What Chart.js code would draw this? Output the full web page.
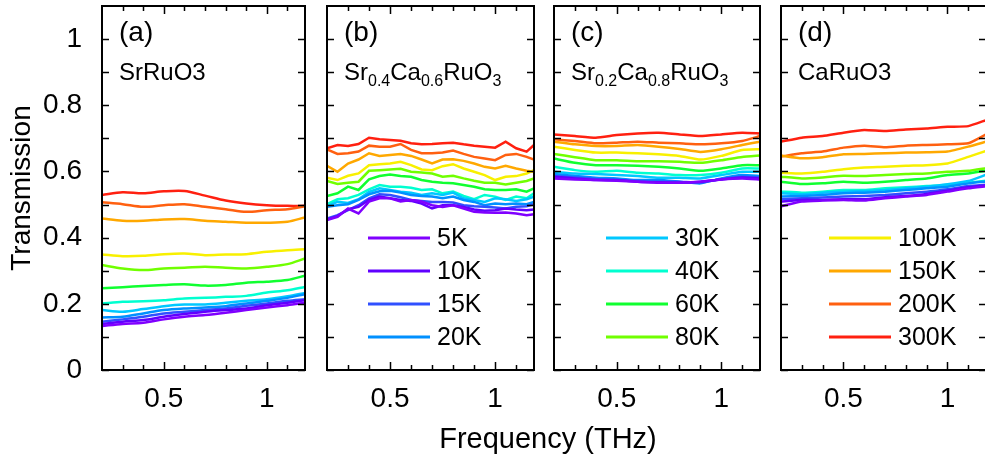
<!DOCTYPE html>
<html>
<head>
<meta charset="utf-8">
<script src="https://cdn.jsdelivr.net/npm/chart.js@4.4.0/dist/chart.umd.min.js"></script>
<style>
  html, body { margin:0; padding:0; background:#fff; overflow:hidden; width:985px; height:462px; }
  canvas { position:absolute; top:0; }
  #xtitle { position:absolute; left:348px; width:400px; top:424px; text-align:center;
            font-family:'Liberation Sans', Arial, sans-serif; font-size:29px; line-height:29px; color:#000; }
</style>
</head>
<body>
<canvas id="ca" width="320" height="462" style="left:0px"></canvas>
<canvas id="cb" width="227" height="462" style="left:317px"></canvas>
<canvas id="cc" width="226" height="462" style="left:544px"></canvas>
<canvas id="cd" width="226" height="462" style="left:771px"></canvas>
<div id="xtitle">Frequency (THz)</div>
<script>
// ---------------- data ----------------
const TEMPS = ['5K','10K','15K','20K','30K','40K','60K','80K','100K','150K','200K','300K'];

const FREQ_COARSE = [0.2,0.3,0.4,0.5,0.6,0.7,0.8,0.9,1.0,1.1,1.185];
const FREQ_FINE = [0.2,0.25,0.3,0.35,0.4,0.45,0.5,0.55,0.6,0.65,0.7,0.75,0.8,0.85,0.9,0.95,1.0,1.05,1.1,1.15,1.185];

const Y_TICKS = [0,0.2,0.4,0.6,0.8,1.0];
const Y_MINOR = [0.1,0.3,0.5,0.7,0.9];
const X_TICKS = [0.5,1.0];
const X_MINOR = [0.3,0.4,0.6,0.7,0.8,0.9,1.1];

// (a) SrRuO3
const VAL_A = [
  [.133,.139,.143,.153,.161,.166,.173,.181,.189,.196,.203],
  [.139,.146,.151,.161,.169,.176,.181,.186,.196,.203,.211],
  [.146,.153,.161,.171,.176,.181,.186,.194,.201,.209,.214],
  [.159,.161,.171,.181,.186,.189,.193,.201,.209,.218,.229],
  [.181,.176,.184,.193,.198,.198,.203,.209,.214,.223,.233],
  [.201,.206,.208,.211,.216,.218,.221,.224,.234,.241,.251],
  [.247,.250,.254,.257,.259,.255,.257,.264,.267,.272,.285],
  [.317,.307,.302,.307,.309,.312,.309,.307,.312,.320,.337],
  [.349,.344,.345,.350,.352,.347,.349,.350,.357,.362,.365],
  [.458,.451,.451,.455,.456,.451,.448,.445,.445,.448,.461],
  [.507,.501,.493,.498,.501,.493,.486,.478,.483,.486,.495],
  [.529,.537,.534,.540,.541,.527,.512,.503,.498,.496,.496]
];

// (b) Sr0.4Ca0.6RuO3
const VAL_B = [
  [.453,.463,.488,.473,.509,.519,.519,.509,.514,.509,.498,.493,.498,.488,.478,.476,.475,.476,.473,.468,.471],
  [.455,.465,.486,.493,.514,.524,.519,.514,.511,.503,.488,.498,.498,.493,.485,.481,.483,.488,.485,.483,.485],
  [.458,.468,.483,.498,.519,.531,.529,.522,.514,.511,.508,.508,.506,.498,.495,.493,.491,.488,.493,.495,.501],
  [.493,.498,.501,.514,.531,.540,.542,.536,.529,.526,.524,.519,.524,.514,.508,.498,.503,.501,.503,.501,.508],
  [.495,.508,.505,.516,.538,.549,.544,.539,.536,.529,.534,.529,.536,.519,.514,.508,.519,.516,.511,.516,.524],
  [.501,.516,.519,.529,.546,.559,.554,.554,.551,.544,.546,.534,.539,.526,.516,.529,.524,.514,.524,.519,.534],
  [.526,.534,.554,.544,.576,.586,.591,.586,.584,.574,.569,.566,.564,.559,.554,.546,.544,.544,.546,.539,.549],
  [.571,.562,.566,.569,.602,.604,.606,.608,.599,.597,.594,.584,.587,.579,.572,.566,.566,.561,.566,.571,.579],
  [.581,.574,.587,.594,.619,.622,.624,.629,.619,.606,.604,.616,.622,.609,.599,.589,.574,.584,.586,.594,.604],
  [.617,.599,.624,.636,.655,.647,.650,.653,.647,.636,.624,.636,.637,.632,.624,.614,.609,.617,.609,.602,.599],
  [.667,.653,.655,.660,.678,.675,.675,.683,.665,.655,.655,.657,.663,.653,.644,.639,.634,.650,.653,.644,.636],
  [.670,.680,.677,.683,.702,.697,.695,.693,.685,.682,.683,.685,.687,.682,.678,.675,.672,.690,.670,.660,.680]
];

// (c) Sr0.2Ca0.8RuO3
const VAL_C = [
  [.579,.576,.574,.572,.569,.566,.566,.569,.576,.579,.576],
  [.584,.579,.574,.574,.569,.567,.566,.569,.576,.582,.579],
  [.586,.582,.577,.574,.571,.569,.569,.566,.577,.584,.582],
  [.592,.586,.581,.579,.574,.574,.569,.564,.579,.589,.586],
  [.599,.594,.592,.589,.586,.581,.581,.579,.589,.599,.599],
  [.614,.604,.599,.602,.596,.594,.589,.589,.596,.609,.609],
  [.639,.626,.619,.619,.617,.614,.609,.602,.609,.619,.619],
  [.653,.643,.634,.634,.631,.631,.629,.626,.634,.644,.648],
  [.675,.665,.657,.657,.655,.652,.647,.636,.647,.665,.667],
  [.690,.682,.677,.677,.680,.675,.668,.659,.667,.680,.690],
  [.697,.692,.685,.687,.690,.687,.685,.682,.685,.692,.707],
  [.712,.707,.702,.710,.715,.717,.712,.707,.712,.717,.715]
];

// (d) CaRuO3
const VAL_D = [
  [.495,.509,.512,.514,.512,.519,.524,.529,.539,.549,.555],
  [.509,.514,.514,.516,.516,.522,.526,.532,.542,.552,.558],
  [.516,.519,.521,.524,.526,.529,.534,.539,.546,.556,.560],
  [.524,.526,.529,.534,.536,.539,.544,.549,.554,.564,.570],
  [.534,.531,.536,.539,.541,.544,.549,.554,.561,.571,.590],
  [.539,.536,.539,.544,.544,.549,.552,.556,.559,.566,.572],
  [.569,.562,.564,.569,.566,.569,.574,.579,.589,.594,.602],
  [.584,.579,.582,.587,.586,.589,.592,.594,.599,.602,.610],
  [.596,.594,.599,.607,.612,.614,.617,.619,.624,.644,.662],
  [.648,.640,.643,.652,.653,.655,.657,.658,.660,.675,.690],
  [.645,.655,.660,.672,.678,.673,.678,.680,.682,.685,.712],
  [.690,.702,.707,.717,.725,.722,.727,.730,.735,.737,.755]
];

const LEGEND_Y = [0.4,0.3,0.2,0.1];

// ---------------- styles ----------------
const COLORS = ['#8000ff','#6000ff','#3050ff','#0090ff','#00c8ff','#00ffd0',
                '#10ff30','#70ff00','#f8f000','#ffa800','#ff6010','#ff2010'];
const FAM = "'Liberation Sans', Arial, sans-serif";

const PANELS = {
  ca: {tag:'(a)', name:[['SrRuO3',0]], freq:FREQ_COARSE, vals:VAL_A, legend:[], lx:0,
       yAxis:true, plotLeft:102, plotW:203, width:320, tension:0.3},
  cb: {tag:'(b)', name:[['Sr',0],['0.4',1],['Ca',0],['0.6',1],['RuO',0],['3',1]], freq:FREQ_FINE, vals:VAL_B,
       legend:[0,1,2,3], lx:41, yAxis:false, plotLeft:10, plotW:207, width:227, tension:0},
  cc: {tag:'(c)', name:[['Sr',0],['0.2',1],['Ca',0],['0.8',1],['RuO',0],['3',1]], freq:FREQ_COARSE, vals:VAL_C,
       legend:[4,5,6,7], lx:52, yAxis:false, plotLeft:10, plotW:206, width:226, tension:0.15},
  cd: {tag:'(d)', name:[['CaRuO3',0]], freq:FREQ_COARSE, vals:VAL_D,
       legend:[8,9,10,11], lx:48, yAxis:false, plotLeft:10, plotW:205, width:226, tension:0.15}
};

const fmt = v => String(Math.round(v * 10) / 10);

const framePlugin = {
  id: 'frameTicks',
  afterDatasetsDraw(chart) {
    const {ctx, chartArea: a, scales: {x, y}} = chart;
    ctx.save();
    ctx.strokeStyle = '#000';
    ctx.lineWidth = 1.5;
    ctx.beginPath();
    for (const v of Y_TICKS.concat(Y_MINOR)) {
      const py = Math.round(y.getPixelForValue(v)) + 0.5;
      ctx.moveTo(a.left, py); ctx.lineTo(a.left + 7, py);
      ctx.moveTo(a.right, py); ctx.lineTo(a.right - 7, py);
    }
    for (const v of X_TICKS.concat(X_MINOR)) {
      const L = X_TICKS.includes(v) ? 8 : 5;
      const px = Math.round(x.getPixelForValue(v)) + 0.5;
      ctx.moveTo(px, a.bottom); ctx.lineTo(px, a.bottom - L);
      ctx.moveTo(px, a.top); ctx.lineTo(px, a.top + L);
    }
    ctx.stroke();
    ctx.lineWidth = 2;
    ctx.strokeRect(a.left, a.top, a.right - a.left, a.bottom - a.top);
    ctx.restore();
  },
  afterDraw(chart) {
    const p = PANELS[chart.canvas.id];
    const {ctx, chartArea: a, scales: {y}} = chart;
    ctx.save();
    ctx.fillStyle = '#000';
    ctx.textAlign = 'left';
    ctx.textBaseline = 'alphabetic';
    ctx.font = '28px ' + FAM;
    ctx.fillText(p.tag, a.left + 17, 41);
    let tx = a.left + 17;
    for (const [t, sub] of p.name) {
      ctx.font = (sub ? '16px ' : '24px ') + FAM;
      ctx.fillText(t, tx, sub ? 86 : 80);
      tx += ctx.measureText(t).width;
    }
    p.legend.forEach((idx, k) => {
      const ds = chart.data.datasets[idx];
      const py = Math.round(y.getPixelForValue(LEGEND_Y[k]));
      ctx.strokeStyle = ds.borderColor;
      ctx.lineWidth = 3;
      ctx.beginPath();
      ctx.moveTo(a.left + p.lx, py);
      ctx.lineTo(a.left + p.lx + 62, py);
      ctx.stroke();
      ctx.font = '25px ' + FAM;
      ctx.textBaseline = 'middle';
      ctx.fillText(ds.label, a.left + p.lx + 69, py + 1);
    });
    ctx.restore();
  }
};

for (const id of Object.keys(PANELS)) {
  const p = PANELS[id];
  const datasets = TEMPS.map((t, i) => ({
    label: t,
    data: p.freq.map((f, j) => ({x: f, y: p.vals[i][j]})),
    borderColor: COLORS[i],
    backgroundColor: COLORS[i],
    borderWidth: 2.5,
    pointRadius: 0,
    tension: p.tension,
    fill: false
  }));
  new Chart(document.getElementById(id), {
    type: 'line',
    data: {datasets},
    plugins: [framePlugin],
    options: {
      responsive: false,
      animation: false,
      events: [],
      layout: {padding: {left: p.yAxis ? 0 : p.plotLeft, right: p.width - p.plotLeft - p.plotW, top: 6, bottom: 0}},
      plugins: {legend: {display: false}, tooltip: {enabled: false}},
      scales: {
        x: {
          type: 'linear', min: 0.2, max: 1.185,
          grid: {display: false}, border: {display: false},
          afterBuildTicks: s => { s.ticks = X_TICKS.map(v => ({value: v})); },
          afterFit: s => { s.height = 92; s.paddingLeft = 0; s.paddingRight = 0; },
          ticks: {font: {family: FAM, size: 28}, color: '#000', padding: 4, maxRotation: 0, autoSkip: false,
                  callback: v => fmt(v)}
        },
        y: {
          type: 'linear', min: 0, max: 1.1, display: p.yAxis,
          grid: {display: false}, border: {display: false},
          afterBuildTicks: s => { s.ticks = Y_TICKS.map(v => ({value: v})); },
          afterFit: s => { if (p.yAxis) s.width = p.plotLeft; s.paddingTop = 0; s.paddingBottom = 0; },
          ticks: {font: {family: FAM, size: 28}, color: '#000', padding: 12, autoSkip: false,
                  callback: v => fmt(v)},
          title: {display: p.yAxis, text: 'Transmission', color: '#000',
                  font: {family: FAM, size: 28}, padding: {top: 5, bottom: 0}}
        }
      }
    }
  });
}
</script>
</body>
</html>
